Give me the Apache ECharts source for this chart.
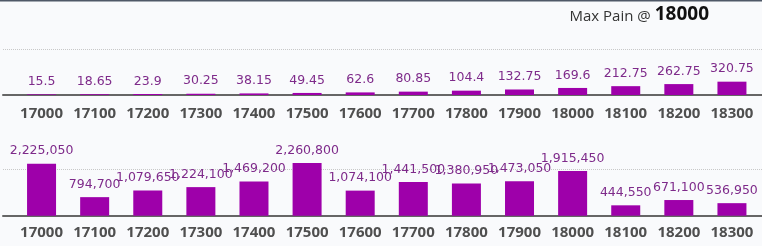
<!DOCTYPE html>
<html>
<head>
<meta charset="utf-8">
<script src="https://cdn.jsdelivr.net/npm/echarts@6/dist/echarts.min.js"></script>
<style>
html,body{margin:0;padding:0;background:#f9fafc;}
#c{width:762px;height:246px;}
</style>
</head>
<body>
<div id="c"></div>
<script>
// ---- data ----
const strikes = ['17000','17100','17200','17300','17400','17500','17600','17700','17800','17900','18000','18100','18200','18300'];
const topValues = [15.5, 18.65, 23.9, 30.25, 38.15, 49.45, 62.6, 80.85, 104.4, 132.75, 169.6, 212.75, 262.75, 320.75];
const bottomValues = [2225050, 794700, 1079650, 1224100, 1469200, 2260800, 1074100, 1441500, 1380950, 1473050, 1915450, 444550, 671100, 536950];
const maxPain = 18000;
const titleLead = 'Max Pain @ ';

// ---- styles ----
const barColor = '#9e00aa';
const labelColor = '#7e2a8a';
const axisColor = '#666666';
const fontLabel = 'DejaVu Sans';
const fontAxis = 'Open Sans';

const chart = echarts.init(document.getElementById('c'), null, {renderer: 'canvas'});

const topGrid = {top: 3.6, bottom: 151};
const botGrid = {top: 122.3, bottom: 30.3};

function barGrid(g){ return {left: 15, right: 3.5, top: g.top, bottom: g.bottom, containLabel: false}; }
function decoGrid(g){ return {left: 3, right: 0, top: g.top, bottom: g.bottom, containLabel: false}; }

const option = {
  backgroundColor: '#f9fafc',
  animation: false,
  title: {
    text: '{a|' + titleLead + '}{b|' + maxPain + '}',
    right: 48,
    top: 0,
    textStyle: {
      fontWeight: 'normal',
      rich: {
        a: {fontFamily: fontAxis, fontSize: 15, fontWeight: 'normal', color: '#333333', verticalAlign: 'bottom'},
        b: {fontFamily: fontAxis, fontSize: 19, fontWeight: 'bold', color: '#111111', verticalAlign: 'bottom'}
      }
    }
  },
  graphic: [{
    type: 'rect', left: 0, top: 0, z: 100,
    shape: {width: 762, height: 1.5},
    style: {fill: '#4f5867'}
  }],
  grid: [decoGrid(topGrid), barGrid(topGrid), decoGrid(botGrid), barGrid(botGrid)],
  xAxis: [
    {type: 'value', gridIndex: 0, min: 0, max: 1, axisLine: {show: true, onZero: false, lineStyle: {color: axisColor, width: 2}}, axisTick: {show: false}, axisLabel: {show: false}, splitLine: {show: false}},
    {type: 'category', gridIndex: 1, data: strikes, axisLine: {show: false}, axisTick: {show: false},
     axisLabel: {interval: 0, margin: 11, color: '#4f4f4f', fontFamily: fontAxis, fontSize: 15, fontWeight: 'bold'}},
    {type: 'value', gridIndex: 2, min: 0, max: 1, axisLine: {show: true, onZero: false, lineStyle: {color: axisColor, width: 2}}, axisTick: {show: false}, axisLabel: {show: false}, splitLine: {show: false}},
    {type: 'category', gridIndex: 3, data: strikes, axisLine: {show: false}, axisTick: {show: false},
     axisLabel: {interval: 0, margin: 10, color: '#4f4f4f', fontFamily: fontAxis, fontSize: 15, fontWeight: 'bold'}}
  ],
  yAxis: [
    {type: 'value', gridIndex: 0, min: 0, max: 2200, interval: 1100, axisLine: {show: false}, axisTick: {show: false}, axisLabel: {show: false},
     splitLine: {show: true, showMinLine: false, showMaxLine: false, lineStyle: {color: '#c8c8c8', type: 'dotted', width: 1}}},
    {type: 'value', gridIndex: 1, min: 0, max: 2200, interval: 1100, show: false, splitLine: {show: false}},
    {type: 'value', gridIndex: 2, min: 0, max: 4000000, interval: 2000000, axisLine: {show: false}, axisTick: {show: false}, axisLabel: {show: false},
     splitLine: {show: true, showMinLine: false, showMaxLine: false, lineStyle: {color: '#c8c8c8', type: 'dotted', width: 1}}},
    {type: 'value', gridIndex: 3, min: 0, max: 4000000, interval: 2000000, show: false, splitLine: {show: false}}
  ],
  series: [
    {
      type: 'bar', xAxisIndex: 1, yAxisIndex: 1, data: topValues, barWidth: 29,
      itemStyle: {color: barColor},
      label: {show: true, position: 'top', distance: 6, color: labelColor, fontFamily: fontLabel, fontSize: 12.5,
        formatter: p => String(p.value)}
    },
    {
      type: 'bar', xAxisIndex: 3, yAxisIndex: 3, data: bottomValues, barWidth: 29,
      itemStyle: {color: barColor},
      label: {show: true, position: 'top', distance: 6, color: labelColor, fontFamily: fontLabel, fontSize: 12.5,
        formatter: p => p.value.toLocaleString('en-US')}
    }
  ]
};
chart.setOption(option);
</script>
</body>
</html>
